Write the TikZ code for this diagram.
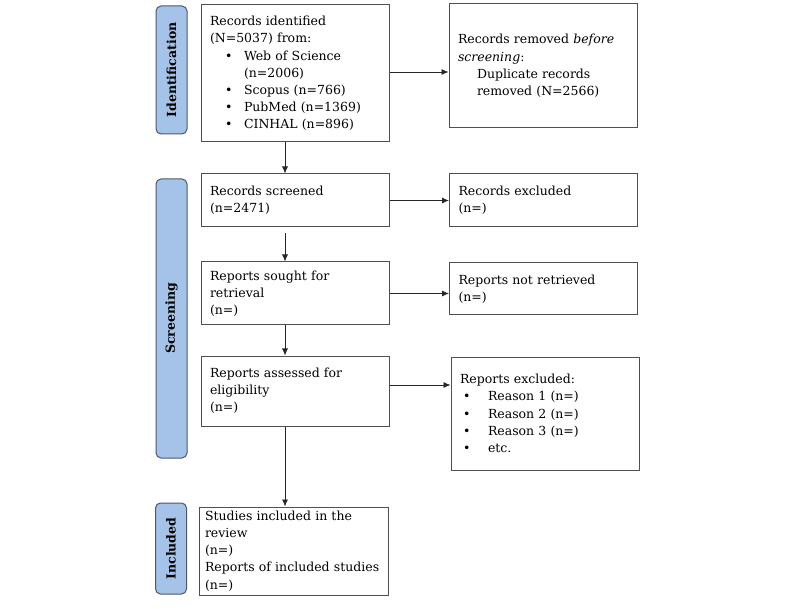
\documentclass[tikz,border=0pt]{standalone}
\usepackage{fontspec}
\setmainfont{DejaVu Serif}
\usepackage{xcolor}
\usetikzlibrary{arrows.meta, positioning}

\definecolor{phasefill}{HTML}{A5C3E8}
\definecolor{phaseline}{HTML}{4B5868}
\definecolor{boxline}{HTML}{505050}
\newcommand{\pitem}[2]{\hspace*{#1}\rlap{\textbullet}\hspace*{#2}}
\hyphenpenalty=10000

\begin{document}
\begin{tikzpicture}[
      x=1pt, y=-1pt,
      every node/.style={font=\fontsize{12.5}{17.2}\selectfont},
      box/.style={draw=boxline, line width=1pt, rectangle, align=left,
        text width=170pt, inner xsep=9pt, inner ysep=2pt},
      phase/.style={draw=phaseline, fill=phasefill, line width=1pt,
        rounded corners=5pt, rotate=90, minimum height=31pt, inner sep=0pt,
        font=\fontsize{12.5}{15}\selectfont\bfseries},
      arr/.style={-{Latex[length=7pt,width=6pt]}, line width=0.8pt, draw=black!85}
    ]
      \useasboundingbox (0,0) rectangle (800,609);

      % phases
      \node[phase, minimum width=128pt] (idphase) at (171.5,70) {Identification};
      \node[phase, minimum width=279pt] (scphase) at (171.5,318.5) {Screening};
      \node[phase, minimum width=91pt] (inphase) at (171,548.5) {Included};

      % main column
      \node[box, minimum height=137pt] (ident) at (295,73.5) {Records identified\\(N=5037) from:\\\pitem{15pt}{19pt}Web of Science\\\hspace*{34pt}(n=2006)\\\pitem{15pt}{19pt}Scopus (n=766)\\\pitem{15pt}{19pt}PubMed (n=1369)\\\pitem{15pt}{19pt}CINHAL (n=896)};
      \node[box, minimum height=53pt] (screened) at (295,200.5) {Records screened\\(n=2471)};
      \node[box, minimum height=63pt] (sought) at (295,293.5) {Reports sought for\\retrieval\\(n=)};
      \node[box, minimum height=70pt] (assessed) at (295,391) {Reports assessed for\\eligibility\\(n=)};
      \node[box, minimum height=88pt, text width=177pt, inner xsep=6pt, inner ysep=1pt] (incl) at (293.5,551) {Studies included in the\\review\\(n=)\\Reports of included studies\\(n=)};

      % side column
      \node[box, minimum height=124pt] (removed) at (543,66) {Records removed \emph{before}\\\emph{screening}:\\\hspace*{19pt}Duplicate records\\\hspace*{19pt}removed (N=2566)};
      \node[box, minimum height=53pt] (recexcl) at (543.5,200.5) {Records excluded\\(n=)};
      \node[box, minimum height=52pt] (notret) at (543.5,289) {Reports not retrieved\\(n=)};
      \node[box, minimum height=113pt] (repexcl) at (545,413.5) {Reports excluded:\\\pitem{3pt}{25pt}Reason 1 (n=)\\\pitem{3pt}{25pt}Reason 2 (n=)\\\pitem{3pt}{25pt}Reason 3 (n=)\\\pitem{3pt}{25pt}etc.};

      % arrows
      \coordinate (spine) at (285,0);
      \draw[arr] (ident.south -| spine) -- (screened.north -| spine);
      \draw[arr, shorten <=6pt] (screened.south -| spine) -- (sought.north -| spine);
      \draw[arr] (sought.south -| spine) -- (assessed.north -| spine);
      \draw[arr] (assessed.south -| spine) -- (incl.north -| spine);
      \draw[arr] ([yshift=1.5pt]ident.east) -- ([yshift=1.5pt]ident.east -| removed.west);
      \draw[arr] (screened.east) -- (screened.east -| recexcl.west);
      \draw[arr] (sought.east) -- (sought.east -| notret.west);
      \draw[arr] ([yshift=6pt]assessed.east) -- ([yshift=6pt]assessed.east -| repexcl.west);
    \end{tikzpicture}
\end{document}
